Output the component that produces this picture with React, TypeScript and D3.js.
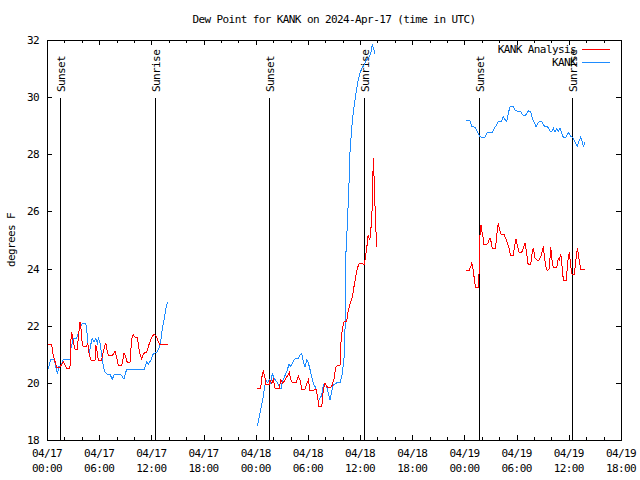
import React from "react";
import * as d3 from "d3";

const title = "Dew Point for KANK on 2024-Apr-17 (time in UTC)";
const yLabel = "degrees F";
const seriesNames = ["KANK Analysis", "KANK"];
const seriesColors = ["#ff0000", "#1e8cff"];
const baseDateUTC = Date.UTC(2024, 3, 17, 0, 0, 0);
const xDomainHours = [0, 66];
const yDomain = [18, 32];
const yTickValues = [18, 20, 22, 24, 26, 28, 30, 32];

// hours since 2024-04-17 00:00 UTC; null separates gaps
const analysisHours: (number | null)[] = [
  0.15, 0.54, 0.73, 0.92, 1.11, 1.49, 1.88, 2.26, 2.64, 2.72, 2.84, 3.03, 3.22, 3.49, 3.6, 3.79, 3.91, 4.06, 4.18, 4.56,
  4.68, 4.83, 5.06, 5.52, 5.6, 5.71, 5.9, 6.29, 6.48, 6.75, 6.94, 7.05, 7.44, 7.63, 7.82, 8.01, 8.2, 8.59, 8.85, 9.05,
  9.24, 9.54, 9.74, 9.93, 10.12, 10.39, 10.5, 10.69, 10.89, 11.08, 11.27, 11.46, 11.65, 11.84, 12.04, 12.23, 12.42,
  12.61, 12.8, 12.99, 13.95,
  null,
  24.11, 24.57, 24.68, 24.87, 25.07, 25.18, 25.56, 25.64, 25.83, 26.02, 26.22, 26.71, 26.87, 27.1, 27.37, 27.86, 28.06,
  28.25, 28.63, 28.9, 29.09, 29.29, 29.67, 29.86, 30.05, 30.24, 30.62, 30.93, 31.08, 31.27, 31.59, 31.77, 31.97, 32.23,
  32.54, 32.73, 33.0, 33.19, 33.38, 33.69, 33.77, 33.96, 34.15, 34.46, 34.65, 34.92, 35.11, 35.3, 35.5, 35.68, 35.91,
  36.49, 36.74, 36.93, 37.12, 37.32, 37.44, 37.51, 37.59, 37.7, 37.82, 37.9,
  null,
  48.18, 48.56, 48.72, 48.83, 48.95, 49.1, 49.21, 49.29, 49.59, 49.67, 49.71, 49.79, 49.9, 49.98, 50.1, 50.25, 50.56,
  50.74, 50.94, 51.05, 51.2, 51.51, 51.63, 51.78, 51.89, 52.01, 52.17, 52.28, 52.58, 52.74, 52.93, 53.12, 53.32, 53.62,
  53.73, 53.93, 54.12, 54.27, 54.58, 54.77, 54.96, 55.16, 55.27, 55.42, 55.62, 55.73, 55.92, 56.11, 56.31, 56.57, 56.77,
  56.95, 57.07, 57.18, 57.34, 57.53, 57.76, 57.92, 58.03, 58.22, 58.61, 58.79, 58.91, 59.07, 59.18, 59.29, 59.45, 59.68,
  59.83, 59.94, 60.06, 60.25, 60.37, 60.63, 60.83, 60.98, 61.1, 61.21, 61.37, 61.86,
];
const analysisValues: (number | null)[] = [
  21.33, 21.33, 20.95, 20.75, 20.55, 20.55, 20.74, 20.5, 20.5, 21.4, 21.79, 21.44, 21.18, 21.18, 21.57, 22.14, 21.9,
  21.33, 21.27, 21.27, 21.4, 21.04, 20.8, 20.8, 21.33, 21.2, 20.8, 20.8, 21.1, 21.4, 21.1, 20.95, 20.95, 21.0, 21.1,
  20.9, 20.6, 20.6, 21.03, 20.92, 20.7, 20.7, 21.56, 21.68, 21.6, 21.6, 21.33, 21.0, 20.84, 21.0, 21.08, 21.08, 21.27,
  21.44, 21.6, 21.68, 21.68, 21.62, 21.44, 21.35, 21.35,
  null,
  19.81, 19.81, 20.16, 20.43, 20.16, 19.93, 19.93, 20.1, 19.98, 20.12, 19.81, 19.81, 20.1, 19.98, 20.1, 20.36, 20.1,
  20.0, 20.0, 20.24, 20.1, 19.78, 19.78, 19.98, 20.1, 19.73, 19.73, 19.78, 19.57, 19.17, 19.17, 19.76, 20.0, 19.85,
  19.83, 19.87, 20.12, 20.55, 20.6, 20.62, 21.3, 21.91, 22.14, 22.16, 22.55, 22.84, 23.01, 23.37, 23.72, 24.01, 24.18,
  24.15, 24.65, 25.17, 25.0, 25.64, 26.52, 27.86, 27.35, 26.3, 25.35, 24.77,
  null,
  23.95, 23.95, 24.07, 24.18, 24.07, 23.72, 23.48, 23.33, 23.33, 23.72, 24.42, 25.18, 25.53, 25.35, 25.18, 24.83, 24.83,
  24.92, 25.08, 24.95, 24.69, 24.69, 24.9, 25.35, 25.58, 25.41, 25.23, 25.18, 25.18, 25.06, 24.9, 24.71, 24.45, 24.45,
  24.71, 25.03, 24.77, 24.57, 24.57, 24.71, 24.9, 24.53, 24.18, 24.15, 24.15, 24.45, 24.73, 24.36, 24.3, 24.3, 24.42,
  24.6, 24.77, 24.45, 24.07, 23.92, 24.01, 24.77, 24.36, 24.03, 24.03, 24.36, 24.3, 24.5, 24.24, 23.78, 23.57, 23.57,
  24.01, 24.42, 24.57, 24.01, 23.8, 23.8, 24.36, 24.71, 24.53, 24.24, 23.98, 23.98,
];

const obsHours: (number | null)[] = [
  0.15, 0.35, 0.46, 0.84, 1.0, 1.19, 1.38, 1.61, 1.88, 2.64, 2.76, 3.03, 3.41, 3.6, 3.79, 4.06, 4.45, 4.56, 4.75, 4.87,
  5.02, 5.21, 5.4, 5.6, 5.79, 5.9, 6.09, 6.29, 6.48, 6.67, 6.94, 7.24, 7.51, 7.74, 8.47, 8.66, 8.85, 9.16, 11.19, 11.46,
  11.65, 11.84, 12.04, 12.23, 12.61, 12.88, 13.07, 13.26, 13.45, 13.64, 13.84,
  null,
  24.18, 24.38, 24.57, 24.76, 24.95, 25.15, 25.33, 25.56, 25.72, 25.91, 26.1, 26.41, 26.71, 26.9, 27.06, 27.25, 27.45,
  27.63, 27.83, 28.02, 28.21, 28.4, 28.6, 28.9, 29.09, 29.29, 29.47, 29.67, 29.86, 30.05, 30.24, 30.44, 30.62, 30.82,
  31.01, 31.2, 31.39, 31.59, 31.77, 31.97, 32.16, 32.34, 32.54, 32.73, 32.92, 33.31, 33.69, 33.89, 34.07, 34.15, 34.26,
  34.35, 34.38, 34.53, 34.58, 34.72, 34.84, 35.04, 35.22, 35.41, 35.61, 35.79, 35.99, 36.18, 36.45, 36.76, 37.06, 37.22,
  37.4, 37.6, 37.71,
  null,
  48.18, 48.64, 48.83, 49.21, 49.41, 49.59, 49.79, 49.98, 50.36, 50.63, 51.2, 51.43, 51.71, 51.89, 52.28, 52.47, 52.66,
  52.86, 53.04, 53.24, 53.62, 53.81, 54.19, 54.5, 54.65, 54.96, 55.16, 55.34, 55.62, 55.8, 56.0, 56.23, 56.42, 56.61,
  56.88, 57.07, 57.26, 57.64, 57.84, 58.03, 58.22, 58.41, 58.61, 58.79, 58.99, 59.18, 59.37, 59.68, 59.94, 60.22, 60.4,
  60.6, 60.79, 60.97, 61.17, 61.37, 61.55, 61.67, 61.86,
];
const obsValues: (number | null)[] = [
  20.48, 20.74, 20.82, 20.82, 20.57, 20.33, 20.57, 20.62, 20.82, 20.82, 21.21, 21.56, 21.56, 21.73, 21.9, 22.08, 22.08,
  21.9, 21.2, 21.04, 21.33, 21.56, 21.44, 21.56, 21.4, 21.56, 21.4, 20.98, 20.57, 20.37, 20.3, 20.3, 20.13, 20.3, 20.3,
  20.22, 20.13, 20.48, 20.48, 20.74, 20.66, 20.74, 20.86, 21.03, 21.07, 21.21, 21.44, 21.9, 22.2, 22.55, 22.82,
  null,
  18.49, 18.76, 19.05, 19.34, 19.69, 20.1, 20.0, 20.1, 20.0, 20.33, 20.16, 20.04, 19.87, 19.78, 20.04, 20.16, 20.33,
  20.45, 20.66, 20.57, 20.68, 20.8, 20.86, 20.86, 20.98, 21.03, 20.74, 20.57, 20.8, 20.7, 20.47, 20.22, 19.98, 19.87,
  19.69, 19.34, 19.46, 19.57, 19.93, 20.0, 19.87, 19.63, 19.4, 19.69, 19.93, 20.0, 20.0, 20.22, 20.62, 20.86, 21.79,
  23.0, 24.59, 25.53, 25.88, 26.93, 28.09, 28.91, 29.49, 29.9, 30.31, 30.6, 30.83, 31.0, 31.12, 31.3, 31.42, 31.53,
  31.82, 31.65, 31.53,
  null,
  29.17, 29.17, 28.97, 28.95, 28.83, 28.73, 28.62, 28.6, 28.6, 28.77, 28.77, 28.91, 29.03, 29.14, 29.16, 29.32, 29.22,
  29.14, 29.43, 29.67, 29.67, 29.55, 29.49, 29.49, 29.38, 29.34, 29.43, 29.52, 29.48, 29.26, 29.14, 28.97, 29.08, 29.14,
  29.14, 29.03, 28.97, 28.95, 28.81, 28.79, 28.91, 28.77, 28.91, 28.79, 28.91, 28.73, 28.6, 28.6, 28.77, 28.62, 28.6,
  28.5, 28.38, 28.27, 28.45, 28.6, 28.45, 28.27, 28.41,
];

const sunEventLabels = ["Sunset", "Sunrise", "Sunset", "Sunrise", "Sunset", "Sunrise"];
const sunEventHours = [1.53, 12.42, 25.56, 36.49, 49.71, 60.4];

const FONT = "'DejaVu Sans Mono', 'Liberation Mono', monospace";

const toDate = (h: number) => new Date(baseDateUTC + h * 3600 * 1000);

type Pt = { t: Date; v: number | null };
const makePoints = (hs: (number | null)[], vs: (number | null)[]): Pt[] =>
  hs.map((h, i) => ({ t: toDate(h == null ? 0 : h), v: h == null ? null : vs[i] }));

export default function App() {
  const left = 47, right = 621, top = 40, bottom = 440;
  const x = d3.scaleUtc().domain([toDate(xDomainHours[0]), toDate(xDomainHours[1])]).range([left, right]);
  const y = d3.scaleLinear().domain(yDomain).range([bottom, top]);

  const line = d3
    .line<Pt>()
    .defined((d) => d.v != null)
    .x((d) => x(d.t))
    .y((d) => y(d.v as number));

  const analysisPath = line(makePoints(analysisHours, analysisValues)) || "";
  const obsPath = line(makePoints(obsHours, obsValues)) || "";

  const minorTicks = x.ticks(d3.utcHour.every(2) as any);
  const majorTicks = x.ticks(d3.utcHour.every(6) as any);
  const fmtDay = d3.utcFormat("%m/%d");
  const fmtTime = d3.utcFormat("%H:%M");

  const textStyle: React.CSSProperties = { fontFamily: FONT, fontSize: 11, letterSpacing: -0.6 };
  const r = (v: number) => Math.round(v) + 0.5;

  return (
    <svg
      width={640}
      height={480}
      style={{ position: "absolute", left: 0, top: 0, background: "#fff" }}
      xmlns="http://www.w3.org/2000/svg"
    >
      <rect x={0} y={0} width={640} height={480} fill="#fff" />
      {/* ticks */}
      <g stroke="#000" strokeWidth={1} shapeRendering="crispEdges">
        {minorTicks.map((t, i) => {
          const isMajor = t.getUTCHours() % 6 === 0;
          const len = isMajor ? 5 : 3;
          const xx = r(x(t));
          return (
            <g key={"xt" + i}>
              <line x1={xx} x2={xx} y1={bottom} y2={bottom - len} />
              <line x1={xx} x2={xx} y1={top} y2={top + len} />
            </g>
          );
        })}
        {yTickValues.map((v, i) => {
          const yy = r(y(v));
          return (
            <g key={"yt" + i}>
              <line x1={left} x2={left + 5} y1={yy} y2={yy} />
              <line x1={right} x2={right - 5} y1={yy} y2={yy} />
            </g>
          );
        })}
      </g>
      {/* x tick labels */}
      <g style={textStyle} fill="#000" textAnchor="middle">
        {majorTicks.map((t, i) => (
          <g key={"xl" + i}>
            <text x={x(t)} y={457}>{fmtDay(t)}</text>
            <text x={x(t)} y={472}>{fmtTime(t)}</text>
          </g>
        ))}
      </g>
      {/* y tick labels */}
      <g style={textStyle} fill="#000" textAnchor="end">
        {yTickValues.map((v, i) => (
          <text key={"yl" + i} x={39} y={y(v) + 4}>{v}</text>
        ))}
      </g>
      {/* sunrise / sunset */}
      <g>
        {sunEventHours.map((h, i) => {
          const xx = r(x(toDate(h)));
          return (
            <g key={"sun" + i}>
              <line x1={xx} x2={xx} y1={98} y2={bottom} stroke="#000" strokeWidth={1} shapeRendering="crispEdges" />
              <text
                transform={`translate(${xx + 4},92) rotate(-90)`}
                style={textStyle}
                fill="#000"
                textAnchor="start"
              >
                {sunEventLabels[i]}
              </text>
            </g>
          );
        })}
      </g>
      {/* series */}
      <path d={obsPath} fill="none" stroke={seriesColors[1]} strokeWidth={1} shapeRendering="crispEdges" />
      <path d={analysisPath} fill="none" stroke={seriesColors[0]} strokeWidth={1} shapeRendering="crispEdges" />
      {/* border */}
      <rect
        x={left + 0.5}
        y={top + 0.5}
        width={right - left}
        height={bottom - top}
        fill="none"
        stroke="#000"
        strokeWidth={1}
        shapeRendering="crispEdges"
      />
      {/* legend */}
      <g style={textStyle} fill="#000" textAnchor="end">
        <text x={576} y={53}>{seriesNames[0]}</text>
        <text x={576} y={66}>{seriesNames[1]}</text>
      </g>
      <line x1={582} x2={610} y1={49.5} y2={49.5} stroke={seriesColors[0]} strokeWidth={1} />
      <line x1={582} x2={610} y1={62.5} y2={62.5} stroke={seriesColors[1]} strokeWidth={1} />
      {/* title */}
      <text x={334} y={23} style={textStyle} textAnchor="middle" fill="#000">{title}</text>
      {/* y label */}
      <text transform={`translate(15,240) rotate(-90)`} style={textStyle} textAnchor="middle" fill="#000">
        {yLabel}
      </text>
    </svg>
  );
}
